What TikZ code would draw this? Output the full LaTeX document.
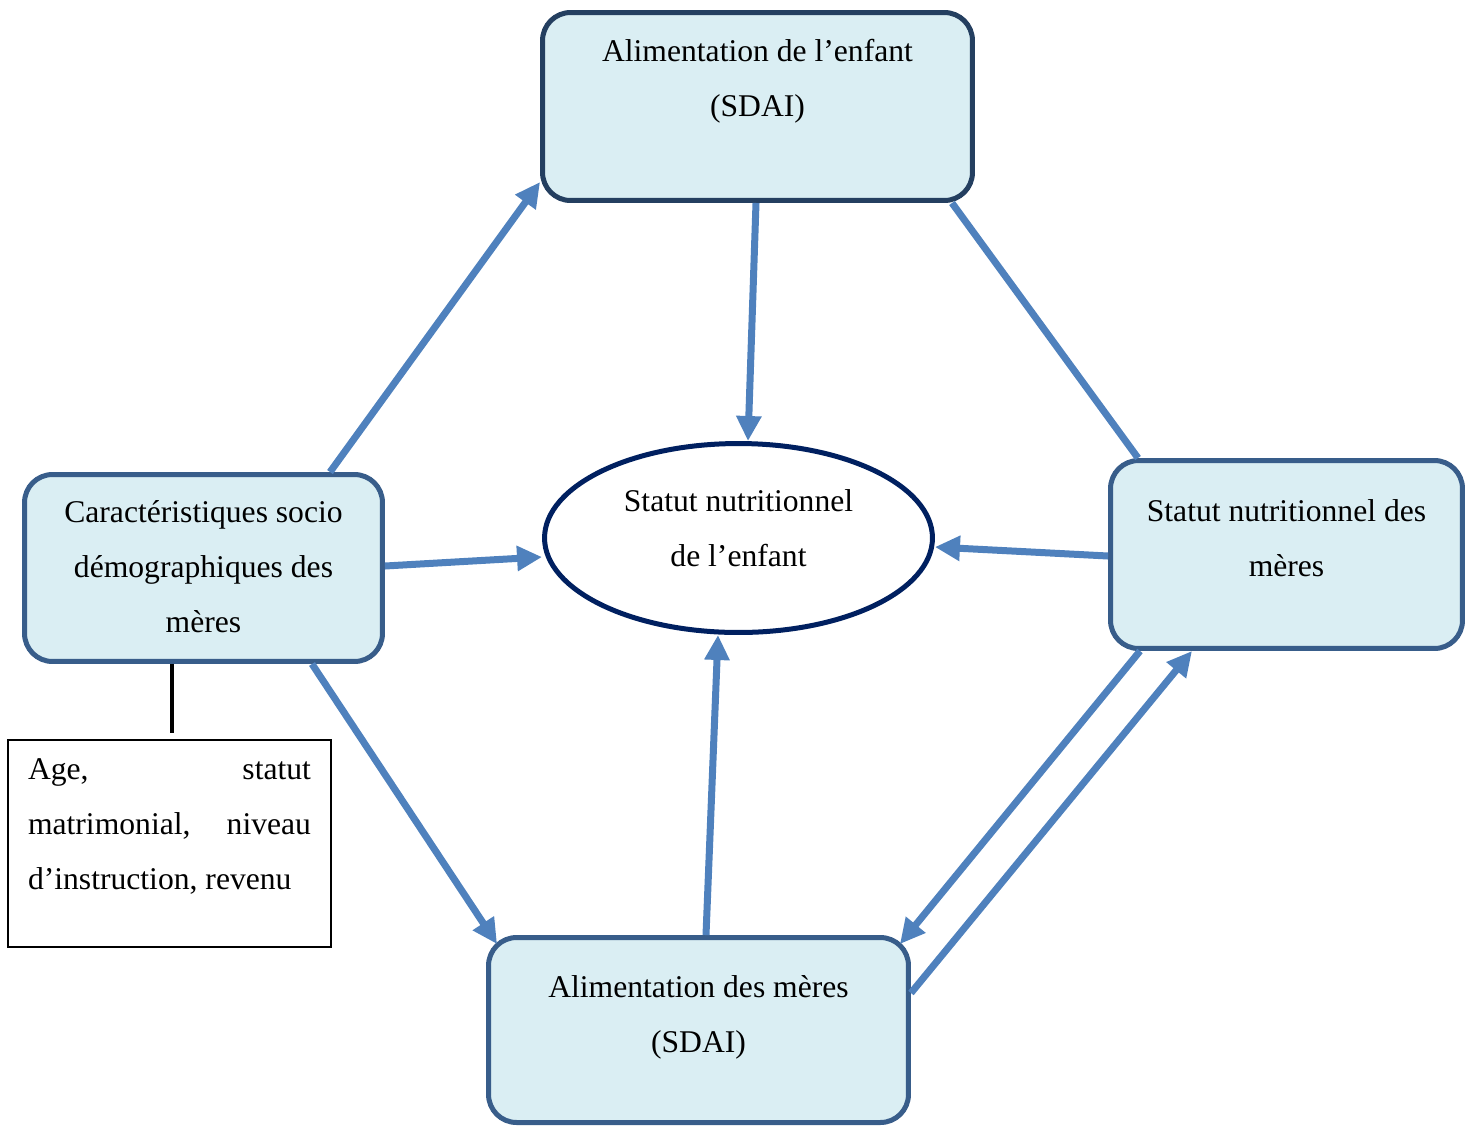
\documentclass[tikz,border=0pt]{standalone}
\usepackage{fontspec}
\setmainfont{Liberation Serif}
\usetikzlibrary{arrows.meta,calc,shapes.geometric}

\definecolor{fondbleu}{HTML}{DAEEF3}
\definecolor{bordbleu}{HTML}{385D8A}
\definecolor{bordsombre}{HTML}{243F60}
\definecolor{flechebleu}{HTML}{4F81BD}
\definecolor{bordnuit}{HTML}{002060}

% texte centre dans une boite de taille fixe, premiere ligne a #3 du haut
\newcommand{\cadretexte}[4]{\parbox[c][#2][t]{#1}{\centering\rule{0pt}{#3}#4}}

\begin{document}
\begin{tikzpicture}
	[x=0.02cm,y=-0.02cm,
	every node/.style={font=\fontsize{18}{31.4}\selectfont,inner sep=0pt},
	boite/.style={draw=bordbleu,fill=fondbleu,line width=0.1cm,rounded corners=0.56cm},
	bulle/.style={ellipse,draw=bordnuit,fill=white,line width=0.1cm,minimum width=7.76cm,minimum height=3.78cm},
	detail/.style={draw=black,line width=0.03cm,inner xsep=0.4cm},
	fleche/.style={draw=flechebleu,line width=0.14cm,-{Triangle[length=0.5cm,width=0.48cm]}},
	trait/.style={draw=flechebleu,line width=0.14cm}]
	\useasboundingbox (0,0) rectangle (1477,1127);
	\node[boite,draw=bordsombre] (enf) at (757.5,106.5) {\cadretexte{8.6cm}{3.76cm}{0.97cm}{Alimentation de l’enfant\\(SDAI)}};
	\node[boite] (carac) at (203.5,568) {\cadretexte{7.16cm}{3.74cm}{0.96cm}{Caractéristiques socio\\démographiques des\\mères}};
	\node[boite] (stat) at (1286.5,554.5) {\cadretexte{7.04cm}{3.76cm}{1.21cm}{Statut nutritionnel des\\mères}};
	\node[boite] (alim) at (698.5,1030) {\cadretexte{8.4cm}{3.7cm}{1.19cm}{Alimentation des mères\\(SDAI)}};
	\node[bulle] (ell) at (738.5,538) {\cadretexte{5cm}{2.2cm}{0.56cm}{Statut nutritionnel\\de l’enfant}};
	\node[detail] (det) at (169.5,843.5) {\parbox[c][4.14cm][t]{5.66cm}{\rule{0pt}{0.79cm}Age,\hfill statut\\matrimonial,\hfill niveau\\d’instruction, revenu}};
	\coordinate (lien) at (172,733);

	\draw[line width=0.08cm] (172,0 |- carac.south) -- (lien);
	\draw[fleche] (330,0 |- carac.north) -- (enf.west |- 0,182);
	\draw[fleche] (756,0 |- enf.south) -- (748,0 |- ell.north);
	\draw[trait] (952,0 |- enf.south) -- (1138,0 |- stat.north);
	\draw[fleche] (carac.east |- 0,566) -- (ell.west |- 0,557);
	\draw[fleche] (stat.west |- 0,556) -- (ell.east |- 0,547);
	\draw[fleche] (706,0 |- alim.north) -- (718,0 |- ell.south);
	\draw[fleche] (312,0 |- carac.south) -- ($(alim.north west)+(11,9)$);
	\draw[fleche] (1140,0 |- stat.south) -- ($(alim.north east)+(-11,9)$);
	\draw[fleche] (alim.east |- 0,993) -- (1192,0 |- stat.south);
\end{tikzpicture}
\end{document}
